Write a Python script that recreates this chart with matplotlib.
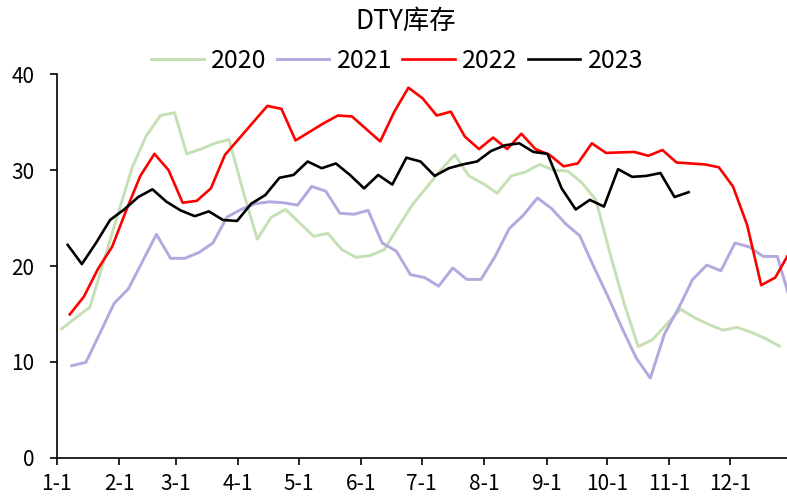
import pandas as pd
import matplotlib
matplotlib.use('Agg')
import matplotlib.pyplot as plt

plt.rcParams['font.family'] = ['Noto Sans CJK SC', 'DejaVu Sans']

# weekly DTY inventory (days), first Friday of each year
start_2020 = '2020-01-03'
start_2021 = '2021-01-08'
start_2022 = '2022-01-07'
start_2023 = '2023-01-06'

dty_2020 = [13.45, 14.6, 15.7, 20.6, 25.5, 30.3, 33.6, 35.7, 36.0, 31.7, 32.2, 32.8, 33.2,
            27.8, 22.8, 25.1, 25.9, 24.5, 23.1, 23.4, 21.7, 20.9, 21.1, 21.7, 24.1, 26.4,
            28.2, 30.0, 31.6, 29.4, 28.6, 27.6, 29.4, 29.8, 30.6, 30.0, 29.9, 28.7, 26.9,
            21.3, 16.1, 11.6, 12.3, 13.9, 15.5, 14.6, 13.9, 13.3, 13.6, 13.1, 12.45, 11.65]
dty_2021 = [9.6, 9.95, 13.0, 16.1, 17.6, 20.45, 23.3, 20.8, 20.8, 21.4, 22.4, 25.1, 25.9,
            26.5, 26.7, 26.6, 26.35, 28.3, 27.8, 25.5, 25.4, 25.8, 22.4, 21.55, 19.1, 18.8,
            17.9, 19.8, 18.6, 18.6, 21.0, 23.9, 25.3, 27.1, 26.0, 24.4, 23.15, 19.9, 16.8,
            13.5, 10.4, 8.3, 12.9, 15.6, 18.6, 20.1, 19.5, 22.4, 22.0, 21.0, 21.0, 16.0]
dty_2022 = [14.95, 16.8, 19.7, 22.0, 25.8, 29.4, 31.7, 30.0, 26.6, 26.8, 28.1, 31.6, 33.3,
            35.0, 36.7, 36.4, 33.1, 34.0, 34.9, 35.7, 35.6, 34.3, 33.0, 36.1, 38.6,
            37.5, 35.7, 36.1, 33.5, 32.2, 33.4, 32.2, 33.8, 32.2, 31.6, 30.4, 30.7, 32.8,
            31.8, 31.85, 31.9, 31.5, 32.1, 30.8, 30.7, 30.6, 30.3, 28.3, 24.3, 18.0, 18.8, 21.4]
dty_2023 = [22.2, 20.2, 22.4, 24.8, 25.9, 27.2, 28.0, 26.7, 25.8, 25.2, 25.7, 24.8, 24.7,
            26.5, 27.4, 29.2, 29.5, 30.9, 30.2, 30.7, 29.5, 28.1, 29.5, 28.5, 31.3, 30.9,
            29.4, 30.2, 30.6, 30.9, 32.0, 32.6, 32.8, 31.9, 31.7, 28.1, 25.9, 26.9, 26.2,
            30.1, 29.3, 29.4, 29.7, 27.2, 27.7]

month_labels = ['1-1', '2-1', '3-1', '4-1', '5-1', '6-1',
                '7-1', '8-1', '9-1', '10-1', '11-1', '12-1']


def day_of_year(start, n):
    d = pd.date_range(start, periods=n, freq='7D')
    d = pd.to_datetime({'year': 2023, 'month': d.month, 'day': d.day})
    return (d - pd.Timestamp('2023-01-01')).dt.days.values


fig = plt.figure(figsize=(7.87, 5.01), dpi=100)
ax = fig.add_axes([0.072, 0.0864, 0.928, 0.7653])

ax.plot(day_of_year(start_2020, len(dty_2020)), dty_2020, color='#c5e0b4', lw=2.1, label='2020')
ax.plot(day_of_year(start_2021, len(dty_2021)), dty_2021, color='#b4a8df', lw=2.1, label='2021')
ax.plot(day_of_year(start_2022, len(dty_2022)), dty_2022, color='#ff0000', lw=1.9, label='2022')
ax.plot(day_of_year(start_2023, len(dty_2023)), dty_2023, color='#000000', lw=1.9, label='2023')

month_days = (pd.to_datetime([f'2023-{m}-01' for m in range(1, 13)]) - pd.Timestamp('2023-01-01')).days
ax.set_xticks(month_days - 0.5)
ax.set_xticklabels(month_labels)
ax.set_xlim(-0.5, 361.8)
ax.set_ylim(0, 40)
ax.set_yticks([0, 10, 20, 30, 40])

for s in ['top', 'right']:
    ax.spines[s].set_visible(False)
for s in ['left', 'bottom']:
    ax.spines[s].set_linewidth(1.2)
ax.tick_params(axis='x', direction='out', length=5, width=1.2, labelsize=15, pad=6)
ax.tick_params(axis='y', direction='out', length=5, width=1.2, labelsize=15, pad=11)

fig.text(0.516, 0.958, 'DTY库存', ha='center', va='center', fontsize=19)
ax.legend(loc='center', bbox_to_anchor=(0.466, 1.035), ncol=4, frameon=False,
          fontsize=18, handlelength=2.1, handletextpad=0.3, columnspacing=0.4)

fig.savefig('out.png', dpi=100)
